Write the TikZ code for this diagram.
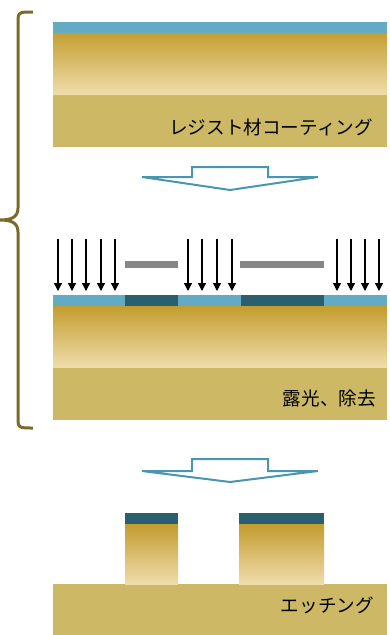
\documentclass[tikz,border=0pt]{standalone}
\usepackage{fontspec}
\setmainfont{Noto Sans CJK JP}
\usetikzlibrary{arrows.meta}

\definecolor{resist}{HTML}{63ABC5}
\definecolor{cured}{HTML}{2A5F70}
\definecolor{golddark}{HTML}{C29D2E}
\definecolor{goldlight}{HTML}{F0DCAA}
\definecolor{substrate}{HTML}{CDB865}
\definecolor{bracecol}{HTML}{7B6A2C}
\definecolor{stepcol}{HTML}{4A96B0}

\tikzset{
  film/.style={top color=golddark, bottom color=goldlight, draw=none},
  base/.style={fill=substrate, draw=none},
  ray/.style={-{Triangle[length=8pt,width=8pt]}, line width=1.2pt},
  mask/.style={fill=gray!95!white, draw=none},
  bigarrow/.style={draw=stepcol, line width=2pt, fill=white, line join=miter},
  caption/.style={anchor=east, font=\fontsize{18.6}{20}\selectfont, inner sep=0pt},
}

\begin{document}
\begin{tikzpicture}[x=1pt, y=-1pt]
    \useasboundingbox (0,0) rectangle (390,635);

    % Step 1: coating
    \fill[base]  (53,94)  rectangle (387,147);
    \fill[film]  (53,31)  rectangle (387,94);
    \fill[resist] (53,22) rectangle (387,33);
    \node[caption] (coat) at (373,127) {レジスト材コーティング};

    % down arrow
    \draw[bigarrow] (192,167) -- (268,167) -- (268,177) -- (318,177)
        -- (230,190) -- (142,177) -- (192,177) -- cycle;

    % Step 2: exposure through the mask
    \fill[base]  (53,367) rectangle (387,420);
    \fill[film]  (53,306) rectangle (387,367);
    \fill[resist] (53,295) rectangle (387,306);
    \fill[cured] (125,295) rectangle (178,306);
    \fill[cured] (241,295) rectangle (324,306);
    \fill[mask]  (125,261) rectangle (178,268);
    \fill[mask]  (240,261) rectangle (324,268);
    \foreach \x in {58,72,86,101,115,188,202,217,232,337,351,365,379}
        \draw[ray] (\x,239) -- (\x,291);
    \node[caption] (expose) at (376,398) {露光、除去};

    % brace over the first two steps
    \draw[bracecol, line width=3pt]
        (33,12) .. controls (18,12) .. (18,24) -- (18,208)
        .. controls (18,218) and (10,220) .. (0,220)
        .. controls (10,220) and (18,222) .. (18,232) -- (18,416)
        .. controls (18,428) .. (33,428);

    % down arrow
    \draw[bigarrow] (192,459) -- (268,459) -- (268,471) -- (318,471)
        -- (230,482) -- (142,471) -- (192,471) -- cycle;

    % Step 3: etching
    \fill[base]  (53,584) rectangle (387,635);
    \fill[film]  (125,524) rectangle (178,584);
    \fill[film]  (239,524) rectangle (324,584);
    \fill[cured] (125,513) rectangle (178,524);
    \fill[cured] (239,513) rectangle (324,524);
    \node[caption] (etch) at (374,605) {エッチング};
\end{tikzpicture}
\end{document}
